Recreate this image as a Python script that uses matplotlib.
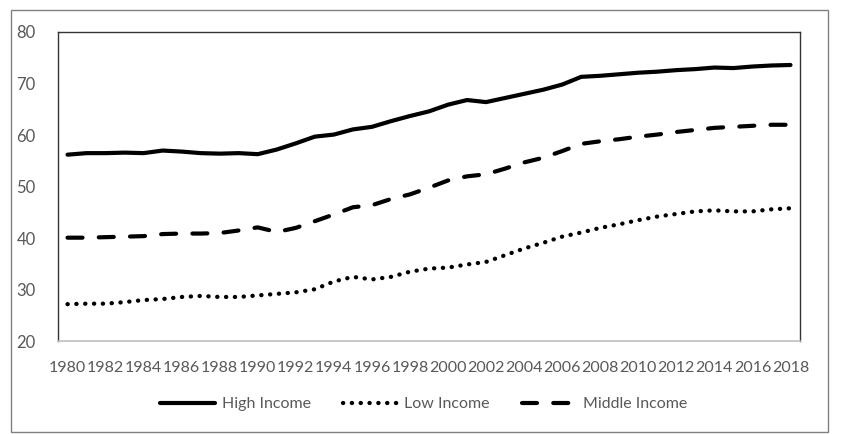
import numpy as np
import matplotlib.pyplot as plt
from matplotlib.patches import Rectangle

plt.rcParams['font.family'] = ['Lato', 'DejaVu Sans']

years = list(range(1980, 2019))

high_income = [56.2, 56.5, 56.5, 56.6, 56.5, 57.0, 56.8, 56.5, 56.4, 56.5,
               56.3, 57.2, 58.4, 59.7, 60.1, 61.1, 61.6, 62.7, 63.7, 64.6,
               65.9, 66.8, 66.4, 67.2, 68.0, 68.8, 69.8, 71.3, 71.5, 71.8,
               72.1, 72.3, 72.6, 72.8, 73.1, 73.0, 73.3, 73.5, 73.6]

low_income = [27.2, 27.3, 27.3, 27.6, 28.0, 28.2, 28.6, 28.8, 28.6, 28.6,
              28.9, 29.2, 29.5, 30.1, 31.6, 32.5, 32.0, 32.5, 33.5, 34.1,
              34.3, 34.9, 35.4, 36.7, 38.0, 39.1, 40.3, 41.1, 42.0, 42.7,
              43.5, 44.2, 44.7, 45.2, 45.4, 45.2, 45.2, 45.6, 45.8]

middle_income = [40.1, 40.1, 40.2, 40.3, 40.4, 40.8, 40.9, 40.9, 41.0, 41.5,
                 42.1, 41.2, 42.0, 43.3, 44.6, 46.0, 46.4, 47.6, 48.5, 49.8,
                 51.2, 52.0, 52.4, 53.5, 54.7, 55.6, 56.9, 58.3, 58.8, 59.2,
                 59.7, 60.1, 60.6, 61.0, 61.4, 61.6, 61.8, 62.0, 62.0]

fig = plt.figure(figsize=(8.48, 4.34), dpi=100)
ax = fig.add_axes([0.0684, 0.2136, 0.875, 0.7127])

x = np.arange(len(years))
lw = 3.0
ax.plot(x, high_income, color='black', lw=lw, solid_capstyle='round',
        solid_joinstyle='round', label='High Income')
ax.plot(x, low_income, color='black', lw=3.1, linestyle=(0, (0.05, 2.0)),
        dash_capstyle='round', label='Low Income')
ax.plot(x, middle_income, color='black', lw=lw, linestyle=(0, (3.6, 3.9)),
        dash_capstyle='round', label='Middle Income')

ax.set_xlim(-0.5, len(years) - 0.5)
ax.set_ylim(20, 80)
ax.set_yticks([20, 30, 40, 50, 60, 70, 80])
ax.set_xticks(x[::2])
ax.set_xticklabels([str(y) for y in years[::2]])
ax.tick_params(axis='both', length=0, colors='#595959', labelsize=11.5)
ax.tick_params(axis='y', pad=16, labelsize=12)
ax.tick_params(axis='x', pad=14)

for side in ['left', 'top', 'right']:
    ax.spines[side].set_color('#333333')
    ax.spines[side].set_linewidth(1.0)
ax.spines['bottom'].set_color('#bfbfbf')
ax.spines['bottom'].set_linewidth(1.2)

# outer chart border
fig.patches.append(Rectangle((11 / 848, 1 - 432 / 434), 817 / 848, 422 / 434,
                             transform=fig.transFigure, fill=False,
                             edgecolor='#808080', lw=1.0))

leg = fig.legend(loc='center', bbox_to_anchor=(0.5, 1 - 404 / 434), ncol=3,
                 frameon=False, fontsize=11.5, handlelength=3.4,
                 handletextpad=0.45, columnspacing=2.0)
for t in leg.get_texts():
    t.set_color('#595959')

fig.savefig('out.png', dpi=100)
